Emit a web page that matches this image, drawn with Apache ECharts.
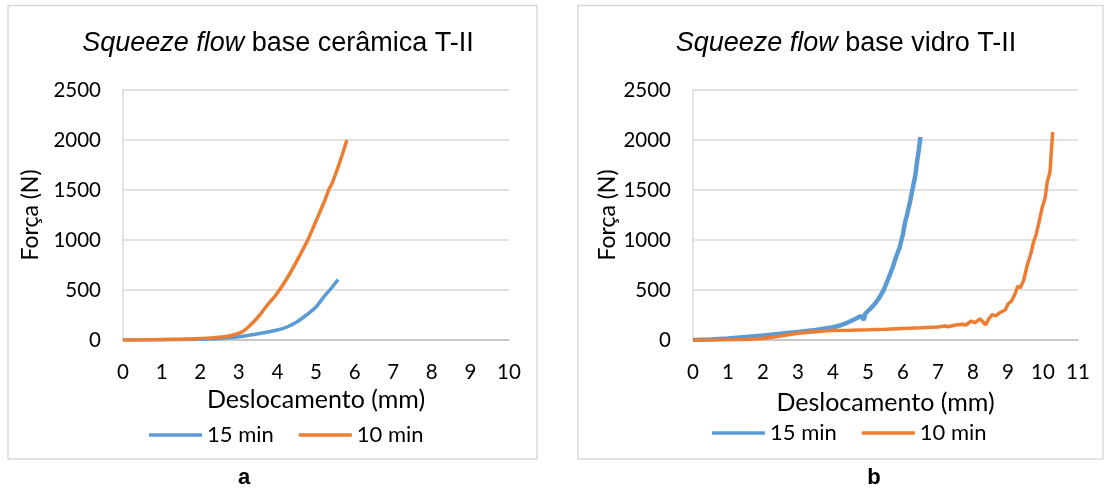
<!DOCTYPE html>
<html>
<head>
<meta charset="utf-8">
<script src="https://cdn.jsdelivr.net/npm/echarts@6/dist/echarts.min.js"></script>
<style>
html,body{margin:0;padding:0;background:#fff;}
#c{width:1105px;height:488px;}
</style>
</head>
<body>
<div id="c"></div>
<script>
// ---- data (Deslocamento mm, Força N) ----
const seriesNames = ['15 min', '10 min'];
const titleItalic = 'Squeeze flow';
const titleA = ' base cerâmica T-II';
const titleB = ' base vidro T-II';
const panelLabels = ['a', 'b'];
const xMaxA = 10;
const xMaxB = 11;
const yMax = 2500;

const blueA = [[0,0],[0.5,1],[1,2],[1.5,4],[2,8],[2.5,16],[3,32],[3.5,62],[4,100],[4.25,130],[4.5,180],[4.75,250],[5,330],[5.2,430],[5.4,520],[5.57,605]];
const orangeA = [[0,0],[0.5,2],[1,5],[1.5,8],[2,14],[2.4,25],[2.7,38],[2.9,55],[3.1,85],[3.3,150],[3.5,230],[3.7,330],[4.0,470],[4.3,650],[4.6,860],[4.8,1010],[5.0,1190],[5.2,1370],[5.35,1520],[5.4,1550],[5.6,1760],[5.8,2000]];

const blueB = [[0,0],[0.5,5],[1,15],[1.5,30],[2,45],[2.5,62],[3,80],[3.5,100],[4,128],[4.2,145],[4.3,158],[4.35,152],[4.4,172],[4.45,166],[4.5,188],[4.55,180],[4.6,205],[4.65,196],[4.7,222],[4.75,212],[4.8,240],[4.85,228],[4.88,200],[4.92,262],[4.96,250],[5.0,290],[5.05,275],[5.1,325],[5.15,312],[5.2,362],[5.25,352],[5.3,412],[5.34,405],[5.4,470],[5.45,500],[5.5,545],[5.6,630],[5.72,740],[5.8,830],[5.9,920],[6.0,1060],[6.06,1180],[6.1,1230],[6.2,1380],[6.29,1540],[6.35,1640],[6.4,1780],[6.45,1900],[6.5,2030]];
const orangeB = [[0,0],[1,2],[1.5,5],[2,14],[2.5,40],[3,67],[3.5,82],[3.9,94],[4.5,98],[5,102],[5.5,108],[6,115],[6.5,122],[7,130],[7.2,140],[7.3,133],[7.5,150],[7.7,158],[7.8,150],[7.95,190],[8.05,172],[8.2,212],[8.3,175],[8.36,152],[8.45,210],[8.55,255],[8.65,240],[8.75,270],[8.8,290],[8.92,300],[9.0,360],[9.1,390],[9.2,460],[9.28,540],[9.35,520],[9.45,600],[9.55,750],[9.65,860],[9.73,980],[9.8,1050],[9.9,1200],[9.98,1330],[10.06,1420],[10.12,1580],[10.2,1680],[10.24,1900],[10.28,2080]];

const BLUE = '#5B9BD5';
const ORANGE = '#ED7D31';
const TXT = '#000000';
const TICKFONT = 'Lato, "Open Sans", sans-serif';
const TITLEFONT = '"Liberation Sans", Arial, sans-serif';

function xAxis(grid, max, nameGap) {
  return {
    type: 'value', gridIndex: grid, min: 0, max: max, interval: 1,
    name: 'Deslocamento (mm)', nameLocation: 'middle', nameGap: nameGap,
    nameTextStyle: {color: TXT, fontSize: 25, fontFamily: TICKFONT},
    axisLine: {show: true, onZero: false, lineStyle: {color: '#bfbfbf', width: 1.5}},
    axisTick: {show: false},
    axisLabel: {color: TXT, fontSize: 20.5, fontFamily: TICKFONT, margin: 22},
    splitLine: {show: false}
  };
}
function yAxis(grid, nameGap) {
  return {
    type: 'value', gridIndex: grid, min: 0, max: yMax, interval: 500,
    name: 'Força (N)', nameLocation: 'middle', nameGap: nameGap,
    nameTextStyle: {color: TXT, fontSize: 23, fontFamily: TICKFONT},
    axisLine: {show: true, lineStyle: {color: '#d9d9d9', width: 1.5}},
    axisTick: {show: false},
    axisLabel: {color: TXT, fontSize: 20.5, fontFamily: TICKFONT, margin: 22,
      formatter: function (v) { return String(v); }},
    splitLine: {show: true, lineStyle: {color: '#d9d9d9', width: 1.5}}
  };
}
function lineSeries(name, data, color, xi, smooth, w) {
  return {
    type: 'line', name: name, data: data, xAxisIndex: xi, yAxisIndex: xi,
    showSymbol: false, symbol: 'none', smooth: smooth,
    lineStyle: {color: color, width: w}, itemStyle: {color: color},
    emphasis: {disabled: true}, animation: false
  };
}
function legend(left, top) {
  return {
    data: seriesNames, left: left, top: top,
    itemWidth: 53, itemHeight: 16, itemGap: 25,
    textStyle: {color: TXT, fontSize: 22, fontFamily: TICKFONT},
    icon: 'path://M0,0 L53,0 L53,3.5 L0,3.5 Z'
  };
}

const chart = echarts.init(document.getElementById('c'), null, {renderer: 'canvas'});
chart.setOption({
  backgroundColor: '#fff',
  animation: false,
  title: [
    {text: '{i|' + titleItalic + '}' + titleA, left: 273, textAlign: 'center', top: 25,
     textStyle: {color: TXT, fontSize: 27, fontWeight: 'normal', fontFamily: TITLEFONT,
       rich: {i: {fontStyle: 'italic', fontSize: 27, fontFamily: TITLEFONT, color: TXT}}}},
    {text: '{i|' + titleItalic + '}' + titleB, left: 841, textAlign: 'center', top: 25,
     textStyle: {color: TXT, fontSize: 27, fontWeight: 'normal', fontFamily: TITLEFONT,
       rich: {i: {fontStyle: 'italic', fontSize: 27, fontFamily: TITLEFONT, color: TXT}}}}
  ],
  legend: [legend(144, 419), legend(707, 417)],
  grid: [
    {left: 123, top: 90, width: 386, height: 250},
    {left: 693, top: 90, width: 385, height: 250}
  ],
  xAxis: [xAxis(0, xMaxA, 46), xAxis(1, xMaxB, 50)],
  yAxis: [yAxis(0, 81), yAxis(1, 74)],
  series: [
    lineSeries(seriesNames[0], blueA, BLUE, 0, 0.3, 3.5),
    lineSeries(seriesNames[1], orangeA, ORANGE, 0, 0.3, 3.5),
    lineSeries(seriesNames[0], blueB, BLUE, 1, false, 4.5),
    lineSeries(seriesNames[1], orangeB, ORANGE, 1, false, 3.5)
  ],
  graphic: [
    {type: 'rect', shape: {x: 8, y: 5.5, width: 529, height: 453.5}, style: {fill: 'none', stroke: '#d9d9d9', lineWidth: 1.5}, silent: true},
    {type: 'rect', shape: {x: 578, y: 5.5, width: 525, height: 453.5}, style: {fill: 'none', stroke: '#d9d9d9', lineWidth: 1.5}, silent: true},
    {type: 'text', x: 244, y: 478, style: {text: panelLabels[0], fill: TXT, font: 'bold 22px "Liberation Sans", Arial, sans-serif', textAlign: 'center', textVerticalAlign: 'middle'}, silent: true},
    {type: 'text', x: 874, y: 478, style: {text: panelLabels[1], fill: TXT, font: 'bold 22px "Liberation Sans", Arial, sans-serif', textAlign: 'center', textVerticalAlign: 'middle'}, silent: true}
  ]
});
</script>
</body>
</html>
